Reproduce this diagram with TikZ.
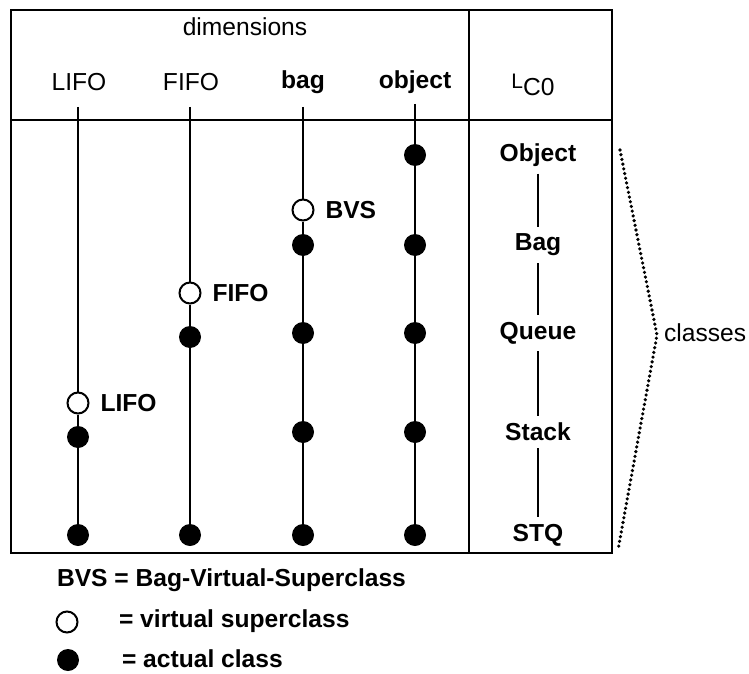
\documentclass[tikz,border=0pt]{standalone}
\usepackage{fontspec}
\setmainfont{Liberation Sans}
\usetikzlibrary{positioning}
\newcommand{\figfont}{\fontsize{12.3}{14}\selectfont}
\tikzset{
  line/.style={draw, line width=1pt, color=black},
  actual/.style={circle, fill=black, inner sep=0pt, minimum size=11pt},
  virtual/.style={circle, draw=black, fill=white, line width=1pt, inner sep=0pt, minimum size=10.5pt},
  lbl/.style={font=\figfont\bfseries},
  bracket/.style={line width=1.8pt, dash pattern=on 0pt off 2.4pt, line cap=round}
}

\begin{document}
\begin{tikzpicture}[x=0.5pt, y=-0.5pt, font=\figfont]
  \useasboundingbox (0,0) rectangle (749,674);

  % ---------------------------------------------------------------
  % TABLE FRAME
  % ---------------------------------------------------------------
  \draw[line] (11,10) rectangle (612,553);
  \draw[line] (11,120) -- (612,120);
  \draw[line] (469,10) -- (469,553);

  % header
  \node (hdim) at (245,27) {dimensions};
  \node (hlifo) at (79,82) {LIFO};
  \node (hfifo) at (191,82) {FIFO};
  \node[lbl] (hbag) at (303,82) {bag};
  \node[lbl] (hobj) at (415,82) {object};
  \node (hlc) at (533,85) {{\fontsize{10.5}{12}\selectfont L}\raisebox{-0.55ex}{C0}};

  % ---------------------------------------------------------------
  % DIMENSION LINES
  % ---------------------------------------------------------------
  \coordinate (ltop) at (78,107);
  \coordinate (ftop) at (190,107);
  \coordinate (btop) at (303,107);
  \coordinate (otop) at (415,104);

  % LIFO
  \node[virtual] (lv) at (78,403) {};
  \node[actual] (l1) at (78,437) {};
  \node[actual] (l2) at (78,535) {};
  \node[lbl, right=2pt of lv] (lvl) {LIFO};

  % FIFO
  \node[virtual] (fv) at (190,293) {};
  \node[actual] (f1) at (190,337) {};
  \node[actual] (f2) at (190,535) {};
  \node[lbl, right=2pt of fv] (fvl) {FIFO};

  % bag
  \node[virtual] (bv) at (303,210) {};
  \node[actual] (b1) at (303,245) {};
  \node[actual] (b2) at (303,333) {};
  \node[actual] (b3) at (303,432) {};
  \node[actual] (b4) at (303,535) {};
  \node[lbl, right=2pt of bv] (bvl) {BVS};

  % object
  \node[actual] (o1) at (415,155) {};
  \node[actual] (o2) at (415,245) {};
  \node[actual] (o3) at (415,333) {};
  \node[actual] (o4) at (415,432) {};
  \node[actual] (o5) at (415,535) {};

  \draw[line] (ltop) -- (lv) -- (l1) -- (l2);
  \draw[line] (ftop) -- (fv) -- (f1) -- (f2);
  \draw[line] (btop) -- (bv) -- (b1) -- (b2) -- (b3) -- (b4);
  \draw[line] (otop) -- (o1) -- (o2) -- (o3) -- (o4) -- (o5);

  % ---------------------------------------------------------------
  % L_C0 COLUMN
  % ---------------------------------------------------------------
  \node[lbl] (cobject) at (538,155) {Object};
  \node[lbl] (cbag) at (538,245) {Bag};
  \node[lbl] (cqueue) at (538,333) {Queue};
  \node[lbl] (cstack) at (538,432) {Stack};
  \node[lbl] (cstq) at (538,535) {STQ};
  \draw[line] (cobject) -- (cbag) -- (cqueue) -- (cstack) -- (cstq);

  % classes bracket
  \coordinate (brtop) at (620,150);
  \coordinate (brtip) at (657,335);
  \coordinate (brbot) at (618,550);
  \draw[bracket] (brtop) -- (brtip) -- (brbot);
  \node[anchor=west] (classes) at (657,333) {classes};

  % ---------------------------------------------------------------
  % LEGEND
  % ---------------------------------------------------------------
  \node[lbl, anchor=west] (bvsdef) at (50,580) {BVS = Bag-Virtual-Superclass};
  \node[virtual] (kv) at (67,622) {};
  \node[lbl, anchor=west] (kvl) at (112,621) {= virtual superclass};
  \node[actual] (ka) at (68,660) {};
  \node[lbl, anchor=west] (kal) at (115,659) {= actual class};
\end{tikzpicture}
\end{document}
